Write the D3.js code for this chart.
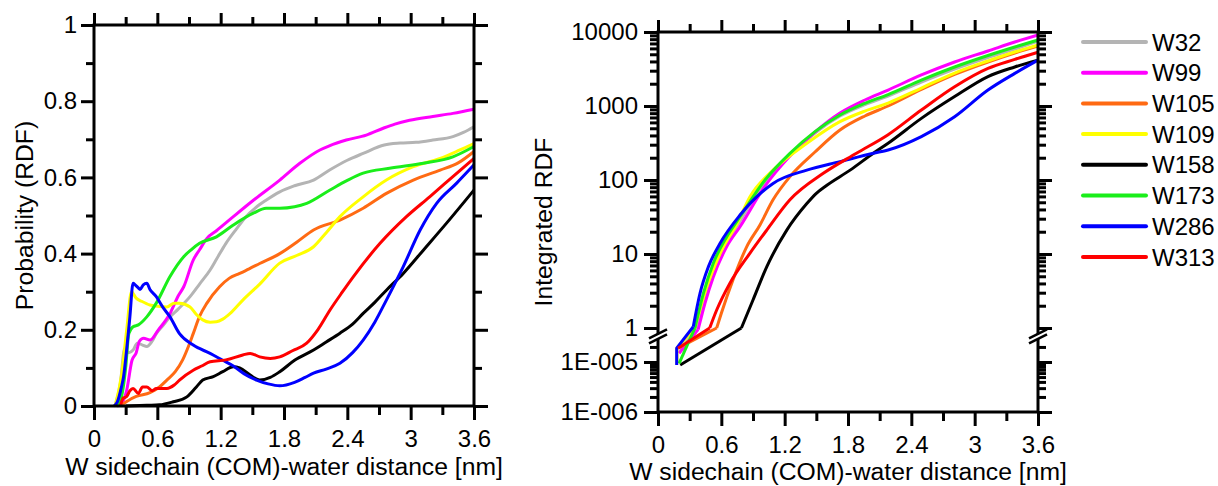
<!DOCTYPE html>
<html><head><meta charset="utf-8">
<script src="https://cdn.jsdelivr.net/npm/d3@7"></script>
<style>
body{margin:0;background:#fff}
svg{display:block}
text{font-family:'Liberation Sans',Arial,sans-serif;font-size:24px;fill:#000}
text.title{font-size:24.7px}
</style>
</head><body>
<svg id="c" width="1218" height="486"></svg>
<script>
// ---------- categories / styling lists ----------
const seriesNames  = ["W32","W99","W105","W109","W158","W173","W286","W313"];
const seriesColors = ["#b4b4b4","#ff00ff","#ff6a13","#ffff00","#000000","#1aee1a","#0000ff","#ff0000"];

// ---------- left panel: probability (RDF), [distance nm, value] ----------
const rdfW32 = [[0.2,0],[0.25,0.06],[0.29,0.15],[0.33,0.14],[0.37,0.147],[0.41,0.165],[0.46,0.16],[0.5,0.156],[0.55,0.17],[0.59,0.19],[0.65,0.21],[0.72,0.234],[0.8,0.255],[0.91,0.287],[1.0,0.32],[1.1,0.357],[1.16,0.385],[1.25,0.427],[1.35,0.465],[1.44,0.497],[1.53,0.52],[1.63,0.54],[1.76,0.562],[1.9,0.578],[2.08,0.593],[2.236,0.62],[2.4,0.645],[2.55,0.663],[2.75,0.685],[2.9,0.69],[3.05,0.692],[3.21,0.698],[3.4,0.707],[3.5,0.718],[3.6,0.733]];
const rdfW99 = [[0.22,0],[0.27,0.01],[0.31,0.042],[0.36,0.12],[0.4,0.14],[0.43,0.17],[0.47,0.178],[0.53,0.173],[0.61,0.2],[0.72,0.243],[0.8,0.29],[0.85,0.313],[0.94,0.383],[1.0,0.41],[1.07,0.44],[1.16,0.46],[1.32,0.497],[1.51,0.54],[1.76,0.593],[1.95,0.637],[2.14,0.672],[2.23,0.683],[2.39,0.698],[2.58,0.711],[2.74,0.729],[2.85,0.74],[2.99,0.75],[3.21,0.76],[3.4,0.768],[3.6,0.779]];
const rdfW105 = [[0.25,0],[0.31,0.012],[0.4,0.025],[0.53,0.035],[0.62,0.05],[0.69,0.068],[0.77,0.09],[0.84,0.121],[0.9,0.16],[0.94,0.19],[1.0,0.235],[1.07,0.27],[1.19,0.313],[1.28,0.335],[1.38,0.348],[1.47,0.36],[1.57,0.374],[1.76,0.40],[1.92,0.43],[2.08,0.462],[2.33,0.488],[2.55,0.519],[2.77,0.558],[3.025,0.593],[3.28,0.619],[3.45,0.638],[3.6,0.668]];
const rdfW109 = [[0.2,0],[0.26,0.08],[0.31,0.2],[0.355,0.3],[0.4,0.283],[0.45,0.275],[0.53,0.265],[0.6,0.262],[0.69,0.26],[0.76,0.27],[0.81,0.27],[0.91,0.26],[0.97,0.24],[1.03,0.226],[1.1,0.22],[1.16,0.221],[1.22,0.228],[1.29,0.243],[1.41,0.278],[1.57,0.32],[1.76,0.375],[1.92,0.395],[2.08,0.418],[2.2,0.455],[2.33,0.497],[2.55,0.549],[2.77,0.593],[3.025,0.628],[3.28,0.65],[3.45,0.67],[3.6,0.689]];
const rdfW158 = [[0.3,0],[0.5,0.002],[0.62,0.003],[0.75,0.011],[0.88,0.024],[0.97,0.05],[1.03,0.068],[1.13,0.077],[1.22,0.09],[1.32,0.103],[1.38,0.10],[1.48,0.081],[1.57,0.068],[1.67,0.075],[1.76,0.09],[1.9,0.12],[2.08,0.147],[2.2,0.168],[2.33,0.191],[2.45,0.215],[2.55,0.243],[2.66,0.272],[2.77,0.304],[2.93,0.348],[3.12,0.409],[3.34,0.48],[3.6,0.567]];
const rdfW173 = [[0.21,0],[0.26,0.024],[0.3,0.1],[0.33,0.19],[0.37,0.208],[0.42,0.213],[0.5,0.234],[0.59,0.27],[0.72,0.34],[0.85,0.392],[0.92,0.41],[1.0,0.427],[1.16,0.444],[1.32,0.475],[1.51,0.506],[1.63,0.519],[1.76,0.519],[1.9,0.523],[2.015,0.532],[2.236,0.567],[2.4,0.592],[2.55,0.611],[2.8,0.624],[3.12,0.637],[3.4,0.654],[3.6,0.681]];
const rdfW286 = [[0.19,0],[0.22,0.01],[0.26,0.05],[0.28,0.077],[0.31,0.15],[0.34,0.234],[0.37,0.322],[0.39,0.318],[0.42,0.31],[0.436,0.306],[0.467,0.318],[0.5,0.322],[0.53,0.306],[0.59,0.287],[0.65,0.26],[0.72,0.234],[0.81,0.19],[0.94,0.16],[1.1,0.138],[1.22,0.12],[1.32,0.105],[1.42,0.085],[1.54,0.068],[1.65,0.058],[1.76,0.053],[1.9,0.062],[2.0,0.075],[2.08,0.086],[2.2,0.097],[2.33,0.112],[2.45,0.14],[2.55,0.173],[2.66,0.22],[2.77,0.278],[2.93,0.366],[3.09,0.462],[3.246,0.532],[3.436,0.585],[3.6,0.633]];
const rdfW313 = [[0.25,0],[0.275,0.02],[0.31,0.025],[0.34,0.04],[0.37,0.046],[0.42,0.033],[0.46,0.05],[0.5,0.05],[0.55,0.04],[0.59,0.046],[0.69,0.046],[0.76,0.055],[0.81,0.068],[0.94,0.094],[1.02,0.105],[1.10,0.116],[1.25,0.121],[1.41,0.134],[1.48,0.138],[1.57,0.129],[1.67,0.125],[1.76,0.129],[1.88,0.145],[2.015,0.165],[2.12,0.2],[2.236,0.252],[2.35,0.298],[2.456,0.339],[2.71,0.427],[2.96,0.497],[3.18,0.549],[3.4,0.602],[3.6,0.65]];

// ---------- right panel: integrated RDF, [distance nm, value] ----------
const intW32  = [[0.2,1.5e-5],[0.36,1],[0.45,2.8],[0.55,6.5],[0.65,14],[0.777,27.9],[1.014,95],[1.25,214],[1.487,432],[1.724,733],[1.96,1047],[2.18,1365],[2.495,2110],[2.81,3160],[3.126,4520],[3.38,5890],[3.6,7550]];
const intW99  = [[0.2,1.5e-5],[0.38,0.95],[0.445,2.16],[0.524,4.9],[0.65,12.5],[0.777,23.4],[1.014,83],[1.25,211],[1.487,445],[1.724,804],[1.96,1205],[2.18,1645],[2.495,2625],[2.81,3935],[3.126,5540],[3.38,7330],[3.6,9100]];
const intW105 = [[0.19,1.9e-5],[0.556,1],[0.6,1.58],[0.71,4.45],[0.84,12.5],[0.966,24.7],[1.09,54],[1.25,111],[1.487,239],[1.724,474],[1.96,733],[2.18,1000],[2.495,1670],[2.81,2670],[3.126,3930],[3.38,5200],[3.6,6460]];
const intW109 = [[0.18,9e-6],[0.18,1.9e-5],[0.35,1],[0.45,3.2],[0.6,11],[0.75,26],[0.87,59],[1.09,136],[1.41,313],[1.724,614],[1.96,855],[2.18,1097],[2.495,1750],[2.81,2790],[3.126,4060],[3.38,5370],[3.6,6670]];
const intW158 = [[0.21,8.7e-6],[0.79,1],[0.9,2.39],[1.03,6.7],[1.22,21],[1.41,48],[1.5,66],[1.6,85],[1.82,136],[2.04,230],[2.18,314],[2.495,680],[2.81,1340],[3.126,2500],[3.38,3370],[3.6,4170]];
const intW173 = [[0.2,9.4e-6],[0.35,1],[0.43,2.94],[0.524,7.5],[0.65,17],[0.777,31.9],[1.014,100],[1.25,229],[1.487,450],[1.724,755],[1.96,1087],[2.18,1429],[2.495,2244],[2.81,3365],[3.126,4810],[3.38,6266],[3.6,7800]];
const intW286 = [[0.177,8.7e-6],[0.177,1.9e-5],[0.334,1.04],[0.398,2.94],[0.477,6.7],[0.587,13.9],[0.777,33.6],[1.09,90],[1.41,136],[1.724,177],[2.04,230],[2.18,254],[2.495,385],[2.81,716],[3.126,1645],[3.38,2760],[3.6,4170]];
const intW313 = [[0.19,1.88e-5],[0.49,1],[0.556,1.75],[0.68,4.0],[0.87,10.2],[1.03,21],[1.25,54],[1.566,123],[1.88,230],[2.18,410],[2.495,883],[2.81,1820],[3.126,3220],[3.38,4260],[3.6,5330]];

// ---------- tick labels ----------
const xTickValues  = [0,0.6,1.2,1.8,2.4,3,3.6];
const xTickLabels  = ["0","0.6","1.2","1.8","2.4","3","3.6"];
const yTickValuesL = [0,0.2,0.4,0.6,0.8,1];
const yTickLabelsL = ["0","0.2","0.4","0.6","0.8","1"];
const yTickValuesR = [1,10,100,1000,10000];
const yTickLabelsR = ["1","10","100","1000","10000"];
const yTickValuesRLow = [1e-6,1e-5];
const yTickLabelsRLow = ["1E-006","1E-005"];
const xTitle  = "W sidechain (COM)-water distance [nm]";
const yTitleL = "Probability (RDF)";
const yTitleR = "Integrated RDF";

const rdfSeries = [rdfW32,rdfW99,rdfW105,rdfW109,rdfW158,rdfW173,rdfW286,rdfW313];
const intSeries = [intW32,intW99,intW105,intW109,intW158,intW173,intW286,intW313];

// ---------- drawing ----------
const svg = d3.select("#c");
const FW = 3;

const xL = d3.scaleLinear().domain([0,3.6]).range([94,474]);
const yL = d3.scaleLinear().domain([0,1]).range([406,25]);
const xR = d3.scaleLinear().domain([0,3.6]).range([658,1038]);
const yUp = d3.scaleLog().domain([1,10000]).range([328,32]);
const yLow = d3.scaleLog().domain([1e-6,1e-5]).range([412,362]);
const yR = v => v >= 0.5 ? yUp(v) : yLow(v);

const xMinor = d3.range(0.3,3.61,0.6);
const yMinorL = d3.range(0.1,1,0.2);
const yMinorR = [];
[1,10,100,1000].forEach(b => { for (let k=2;k<=9;k++) yMinorR.push(b*k); });
const yMinorRLow = [];
for (let k=2;k<=9;k++) yMinorRLow.push(k*1e-6);
yMinorRLow.push(2e-5);

function styleAxis(g, labelled){
  g.attr("font-size",null).attr("font-family",null);
  g.select(".domain").remove();
  g.selectAll(".tick line").attr("stroke","#000").attr("stroke-width",FW);
  if (labelled) g.selectAll(".tick text").style("font-size","24px").attr("fill","#000");
  else g.selectAll(".tick text").remove();
}
function addAxis(axis, tx, ty, labelled){
  const g = svg.append("g").attr("transform",`translate(${tx},${ty})`).call(axis);
  styleAxis(g, labelled);
  return g;
}

const lineL = d3.line().x(d=>xL(d[0])).y(d=>yL(d[1])).curve(d3.curveMonotoneX);
const lineRlin = d3.line().x(d=>xR(d[0])).y(d=>yR(d[1]));
const lineRsm = d3.line().x(d=>xR(d[0])).y(d=>yR(d[1])).curve(d3.curveMonotoneX);

const gL = svg.append("g");
rdfSeries.forEach((s,i)=>{
  gL.append("path").attr("d",lineL(s)).attr("fill","none")
    .attr("stroke",seriesColors[i]).attr("stroke-width",3).attr("stroke-linejoin","round");
});
const gR = svg.append("g");
intSeries.forEach((s,i)=>{
  const k = s.findIndex(d=>d[1]>=0.5);
  gR.append("path").attr("d",lineRlin(s.slice(0,k+1))).attr("fill","none")
    .attr("stroke",seriesColors[i]).attr("stroke-width",3).attr("stroke-linejoin","round");
  gR.append("path").attr("d",lineRsm(s.slice(k))).attr("fill","none")
    .attr("stroke",seriesColors[i]).attr("stroke-width",3).attr("stroke-linejoin","round");
});

// ---- left panel axes ----
addAxis(d3.axisBottom(xL).tickValues(xTickValues).tickSize(14).tickPadding(10).tickFormat((d,i)=>xTickLabels[i]), 0, 406, true);
addAxis(d3.axisBottom(xL).tickValues(xMinor).tickSize(9).tickFormat(""), 0, 406, false);
addAxis(d3.axisTop(xL).tickValues(xTickValues).tickSize(12).tickFormat(""), 0, 25, false);
addAxis(d3.axisTop(xL).tickValues(xMinor).tickSize(8).tickFormat(""), 0, 25, false);
addAxis(d3.axisLeft(yL).tickValues(yTickValuesL).tickSize(13).tickPadding(4).tickFormat((d,i)=>yTickLabelsL[i]), 94, 0, true);
addAxis(d3.axisLeft(yL).tickValues(yMinorL).tickSize(8).tickFormat(""), 94, 0, false);
addAxis(d3.axisRight(yL).tickValues(yTickValuesL).tickSize(14).tickFormat(""), 474, 0, false);
addAxis(d3.axisRight(yL).tickValues(yMinorL).tickSize(8).tickFormat(""), 474, 0, false);
svg.append("rect").attr("x",xL(0)).attr("y",yL(1)).attr("width",xL(3.6)-xL(0)).attr("height",yL(0)-yL(1))
  .attr("fill","none").attr("stroke","#000").attr("stroke-width",FW);

// ---- right panel axes ----
addAxis(d3.axisBottom(xR).tickValues(xTickValues).tickSize(14).tickPadding(10).tickFormat((d,i)=>xTickLabels[i]), 0, 412, true);
addAxis(d3.axisBottom(xR).tickValues(xMinor).tickSize(9).tickFormat(""), 0, 412, false);
addAxis(d3.axisTop(xR).tickValues(xTickValues).tickSize(12).tickFormat(""), 0, 32, false);
addAxis(d3.axisTop(xR).tickValues(xMinor).tickSize(8).tickFormat(""), 0, 32, false);
addAxis(d3.axisLeft(yUp).tickValues(yTickValuesR).tickSize(14).tickPadding(6).tickFormat((d,i)=>yTickLabelsR[i]), 658, 0, true);
addAxis(d3.axisLeft(yUp).tickValues(yMinorR).tickSize(8).tickFormat(""), 658, 0, false);
addAxis(d3.axisLeft(yLow).tickValues(yTickValuesRLow).tickSize(14).tickPadding(6).tickFormat((d,i)=>yTickLabelsRLow[i]), 658, 0, true);
addAxis(d3.axisLeft(yLow).tickValues(yMinorRLow).tickSize(8).tickFormat(""), 658, 0, false);
addAxis(d3.axisRight(yUp).tickValues(yTickValuesR).tickSize(14).tickFormat(""), 1038, 0, false);
addAxis(d3.axisRight(yUp).tickValues(yMinorR).tickSize(8).tickFormat(""), 1038, 0, false);
addAxis(d3.axisRight(yLow).tickValues(yTickValuesRLow).tickSize(14).tickFormat(""), 1038, 0, false);
addAxis(d3.axisRight(yLow).tickValues(yMinorRLow).tickSize(8).tickFormat(""), 1038, 0, false);
svg.append("rect").attr("x",xR(0)).attr("y",yUp(10000)).attr("width",xR(3.6)-xR(0)).attr("height",yLow(1e-6)-yUp(10000))
  .attr("fill","none").attr("stroke","#000").attr("stroke-width",FW);

// axis break marks
const breakY = (yUp(1)+yLow(2e-5))/2;
[xR(0), xR(3.6)].forEach(bx=>{
  svg.append("polygon")
    .attr("points",`${bx-8},${breakY+5} ${bx+8},${breakY-3} ${bx+8},${breakY-7} ${bx-8},${breakY+1}`)
    .attr("fill","#fff");
  svg.append("line").attr("x1",bx-9).attr("y1",breakY+6).attr("x2",bx+9).attr("y2",breakY-3)
    .attr("stroke","#000").attr("stroke-width",2.5);
  svg.append("line").attr("x1",bx-9).attr("y1",breakY+1).attr("x2",bx+9).attr("y2",breakY-8)
    .attr("stroke","#000").attr("stroke-width",2.5);
});

// titles
svg.append("text").attr("class","title").attr("x",(xL(0)+xL(3.6))/2).attr("y",475).attr("text-anchor","middle").text(xTitle);
svg.append("text").attr("class","title").attr("x",(xR(0)+xR(3.6))/2).attr("y",480).attr("text-anchor","middle").text(xTitle);
svg.append("text").attr("class","title").attr("transform",`translate(33,${(yL(0)+yL(1))/2}) rotate(-90)`).attr("text-anchor","middle").text(yTitleL);
svg.append("text").attr("class","title").attr("transform",`translate(552,${(yUp(10000)+yLow(1e-6))/2}) rotate(-90)`).attr("text-anchor","middle").text(yTitleR);

// legend
const leg = svg.append("g");
seriesNames.forEach((n,i)=>{
  const y = 42 + i*30.7;
  leg.append("line").attr("x1",1083).attr("x2",1146).attr("y1",y).attr("y2",y)
    .attr("stroke",seriesColors[i]).attr("stroke-width",4).attr("stroke-linecap","round");
  leg.append("text").attr("x",1152).attr("y",y).attr("dy","0.36em").text(n);
});
</script>
</body></html>
